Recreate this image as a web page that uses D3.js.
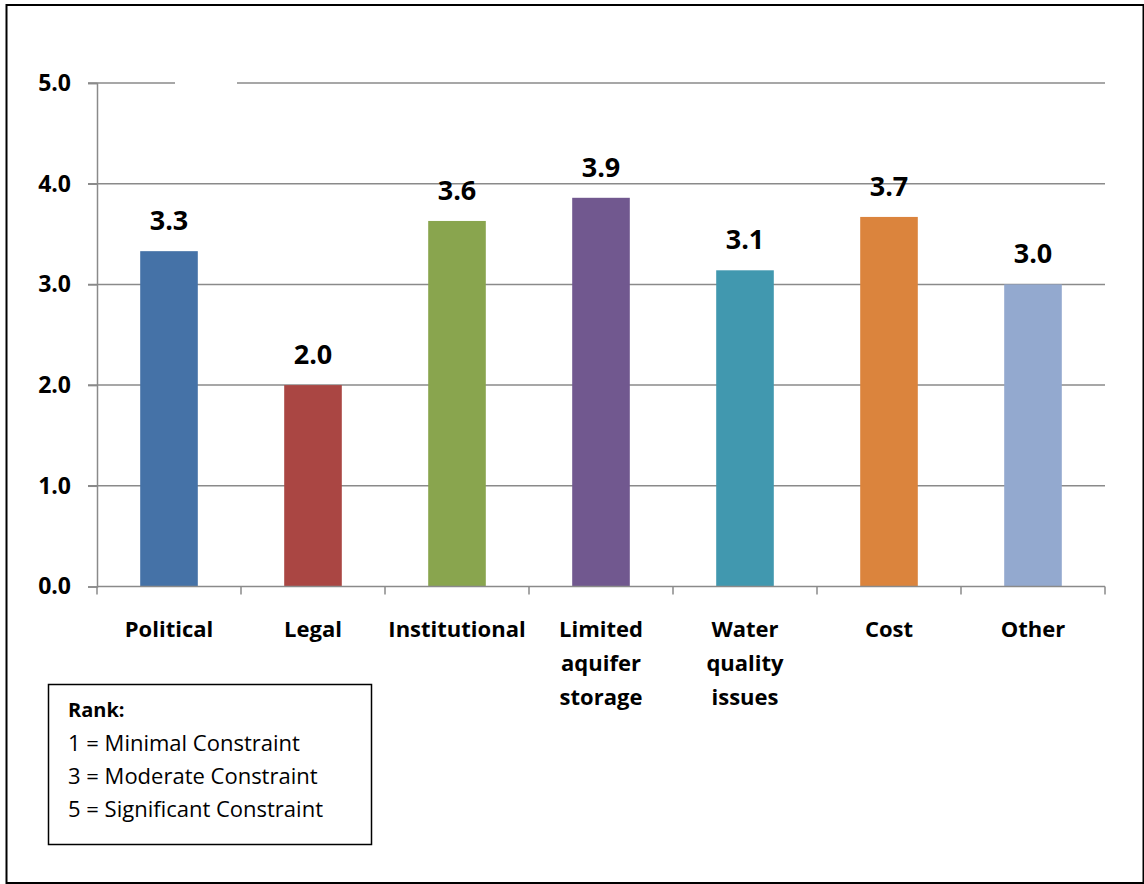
<!DOCTYPE html>
<html>
<head>
<meta charset="utf-8">
<script src="https://cdn.jsdelivr.net/npm/d3@7"></script>
<style>
  html, body { margin: 0; padding: 0; background: #fff; }
  svg { display: block; }
</style>
</head>
<body>
<svg id="chart" width="1144" height="884"></svg>
<script>
// Average constraint rank per category
const categories = ["Political", "Legal", "Institutional", "Limited aquifer storage", "Water quality issues", "Cost", "Other"];
const categoryLines = [["Political"], ["Legal"], ["Institutional"], ["Limited", "aquifer", "storage"], ["Water", "quality", "issues"], ["Cost"], ["Other"]];
const rankValues = [3.33, 2.0, 3.63, 3.86, 3.14, 3.67, 3.0];
const barColors = ["#4572A7", "#AA4643", "#89A54E", "#71588F", "#4198AF", "#DB843D", "#93A9CF"];
const yTicks = [0, 1, 2, 3, 4, 5];
const legendTitle = "Rank:";
const legendLines = ["1 = Minimal Constraint", "3 = Moderate Constraint", "5 = Significant Constraint"];

const svg = d3.select("#chart");
const W = 1144, H = 884;
const plot = { left: 97, right: 1105, top: 83, bottom: 586.5 };
const gridColor = "#8a8a8a";
const fontFamily = "'Open Sans', 'Liberation Sans', sans-serif";

// outer frame
svg.append("rect")
  .attr("x", 6.5).attr("y", 5).attr("width", W - 7).attr("height", H - 6)
  .attr("fill", "#fff").attr("stroke", "#000").attr("stroke-width", 2);

const x = d3.scaleBand()
  .domain(categories)
  .range([plot.left, plot.right])
  .paddingInner(0.6)
  .paddingOuter(0.3);

const y = d3.scaleLinear()
  .domain([0, 5])
  .range([plot.bottom, plot.top]);

// horizontal gridlines (extend left past the axis as tick marks)
svg.append("g").selectAll("line")
  .data(yTicks.filter(d => d > 0))
  .join("line")
  .attr("x1", plot.left - 9).attr("x2", plot.right)
  .attr("y1", d => y(d)).attr("y2", d => y(d))
  .attr("stroke", gridColor).attr("stroke-width", 1.5);

// blank text box sitting on the top gridline
svg.append("rect")
  .attr("x", 175).attr("y", y(5) - 2).attr("width", 62).attr("height", 4)
  .attr("fill", "#fff");

// y axis
const yAxis = d3.axisLeft(y)
  .tickValues(yTicks)
  .tickFormat(d3.format(".1f"))
  .tickSize(9)
  .tickPadding(17);
const gy = svg.append("g")
  .attr("transform", `translate(${plot.left},0)`)
  .call(yAxis);
gy.select(".domain").attr("stroke", gridColor).attr("stroke-width", 1.5);
gy.selectAll(".tick line").attr("stroke", gridColor).attr("stroke-width", 1.5);
gy.selectAll(".tick text")
  .attr("font-family", fontFamily)
  .attr("font-weight", 700)
  .attr("font-size", 23)
  .attr("fill", "#000");

// bars
svg.append("g").selectAll("rect")
  .data(categories)
  .join("rect")
  .attr("x", d => x(d))
  .attr("width", x.bandwidth())
  .attr("y", (d, i) => y(rankValues[i]))
  .attr("height", (d, i) => y(0) - y(rankValues[i]))
  .attr("fill", (d, i) => barColors[i]);

// x axis line and category boundary ticks
const step = x.step();
const boundaries = d3.range(categories.length + 1).map(i => plot.left + i * step);
svg.append("line")
  .attr("x1", plot.left).attr("x2", plot.right)
  .attr("y1", plot.bottom).attr("y2", plot.bottom)
  .attr("stroke", gridColor).attr("stroke-width", 1.5);
svg.append("g").selectAll("line")
  .data(boundaries)
  .join("line")
  .attr("x1", d => d).attr("x2", d => d)
  .attr("y1", plot.bottom).attr("y2", plot.bottom + 8)
  .attr("stroke", gridColor).attr("stroke-width", 1.5);

// value labels
svg.append("g").selectAll("text")
  .data(categories)
  .join("text")
  .attr("x", d => x(d) + x.bandwidth() / 2)
  .attr("y", (d, i) => y(rankValues[i]) - 21)
  .attr("text-anchor", "middle")
  .attr("font-family", fontFamily)
  .attr("font-weight", 700)
  .attr("font-size", 27)
  .attr("fill", "#000")
  .text((d, i) => rankValues[i].toFixed(1));

// category labels (multi-line)
const xl = svg.append("g").selectAll("text")
  .data(categories)
  .join("text")
  .attr("x", d => x(d) + x.bandwidth() / 2)
  .attr("y", 637)
  .attr("text-anchor", "middle")
  .attr("font-family", fontFamily)
  .attr("font-weight", 700)
  .attr("font-size", 22)
  .attr("fill", "#000");
xl.selectAll("tspan")
  .data((d, i) => categoryLines[i])
  .join("tspan")
  .attr("x", function () { return d3.select(this.parentNode).attr("x"); })
  .attr("dy", (d, i) => i === 0 ? 0 : 34)
  .text(d => d);

// rank legend box
const legend = svg.append("g");
legend.append("rect")
  .attr("x", 48.5).attr("y", 684.5).attr("width", 323).attr("height", 160)
  .attr("fill", "#fff").attr("stroke", "#000").attr("stroke-width", 1.5);
legend.append("text")
  .attr("x", 68).attr("y", 717)
  .attr("font-family", fontFamily)
  .attr("font-weight", 700)
  .attr("font-size", 20)
  .attr("fill", "#000")
  .text(legendTitle);
legend.selectAll("text.line")
  .data(legendLines)
  .join("text")
  .attr("class", "line")
  .attr("x", 68)
  .attr("y", (d, i) => 751 + i * 33)
  .attr("font-family", fontFamily)
  .attr("font-size", 22)
  .attr("fill", "#000")
  .text(d => d);
</script>
</body>
</html>
